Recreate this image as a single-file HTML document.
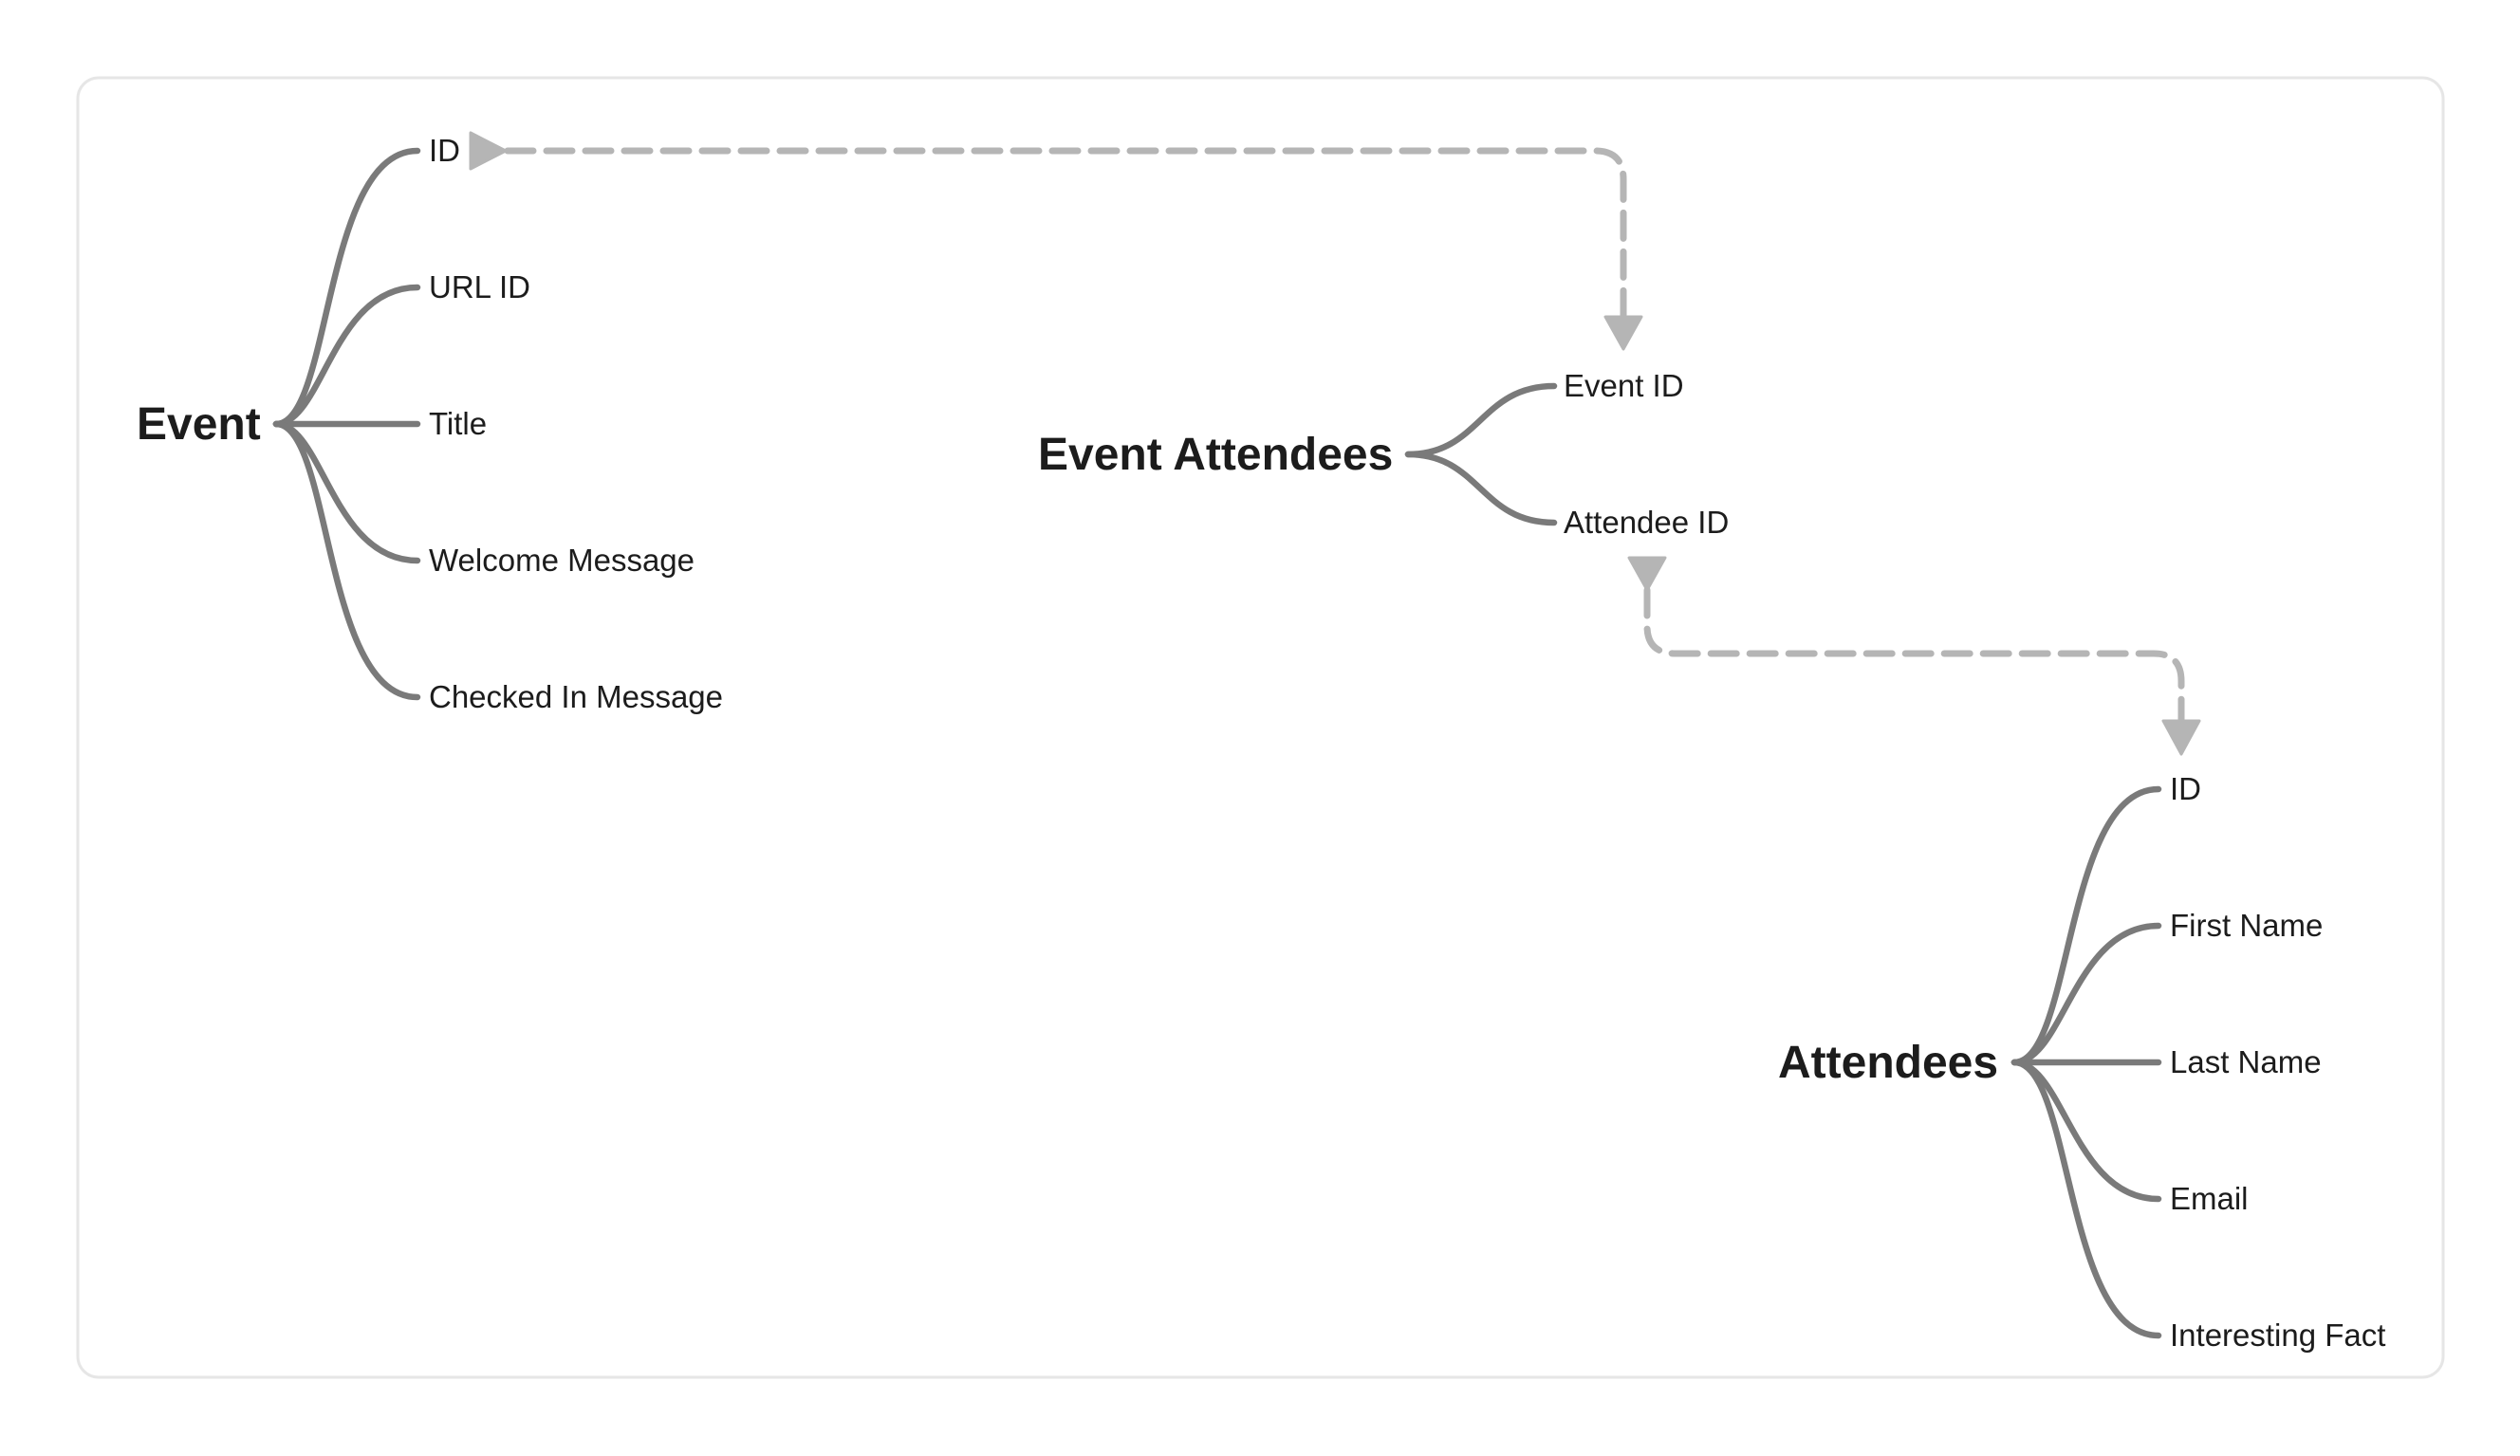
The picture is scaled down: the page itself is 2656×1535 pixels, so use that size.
<!DOCTYPE html>
<html><head><meta charset="utf-8"><style>
html,body{margin:0;padding:0;background:#fff;}
svg{display:block;}
text{font-family:"Liberation Sans",sans-serif;fill:#1c1c1c;}
.b{font-weight:bold;font-size:48px;}
.l{font-size:33px;}
.e{fill:none;stroke:#7a7a7a;stroke-width:6.5;stroke-linecap:round;}
.d{fill:none;stroke:#b5b5b5;stroke-width:7;stroke-dasharray:27 14;stroke-linecap:round;}
.a{fill:#b5b5b5;stroke:#b5b5b5;stroke-width:3;stroke-linejoin:round;}
</style></head><body>
<svg width="2656" height="1535" viewBox="0 0 2656 1535" xmlns="http://www.w3.org/2000/svg">
<rect x="82" y="82" width="2493" height="1370" rx="22" fill="#fff" stroke="#e6e6e6" stroke-width="3"/>

<text class="b" x="144" y="463">Event</text>
<g class="e">
<path d="M291 447 C350 447 340 159 440 159"/>
<path d="M291 447 C340 447 350 303 440 303"/>
<path d="M291 447 L440 447"/>
<path d="M291 447 C340 447 350 591 440 591"/>
<path d="M291 447 C350 447 340 735 440 735"/>
</g>
<text class="l" x="452" y="170">ID</text>
<text class="l" x="452" y="314">URL ID</text>
<text class="l" x="452" y="458">Title</text>
<text class="l" x="452" y="602">Welcome Message</text>
<text class="l" x="452" y="746">Checked In Message</text>

<text class="b" x="1094" y="495">Event Attendees</text>
<g class="e">
<path d="M1484 479 C1560 479 1560 407 1638 407"/>
<path d="M1484 479 C1560 479 1560 551 1638 551"/>
</g>
<text class="l" x="1648" y="418">Event ID</text>
<text class="l" x="1648" y="562">Attendee ID</text>

<text class="b" x="1874" y="1136">Attendees</text>
<g class="e">
<path d="M2123 1120 C2185 1120 2175 832 2275 832"/>
<path d="M2123 1120 C2175 1120 2185 976 2275 976"/>
<path d="M2123 1120 L2275 1120"/>
<path d="M2123 1120 C2175 1120 2185 1264 2275 1264"/>
<path d="M2123 1120 C2185 1120 2175 1408 2275 1408"/>
</g>
<text class="l" x="2287" y="843">ID</text>
<text class="l" x="2287" y="987">First Name</text>
<text class="l" x="2287" y="1131">Last Name</text>
<text class="l" x="2287" y="1275">Email</text>
<text class="l" x="2287" y="1419">Interesting Fact</text>

<path class="d" d="M535 159 L1681 159 Q1711 159 1711 189 L1711 334"/>
<polygon class="a" points="496,140 496,178 533,159"/>
<polygon class="a" points="1692,334 1730,334 1711,368"/>

<path class="d" d="M1736 622 L1736 660 Q1736 689 1766 689 L2270 689 Q2299 689 2299 718 L2299 760"/>
<polygon class="a" points="1717,588 1755,588 1736,622"/>
<polygon class="a" points="2280,760 2318,760 2299,795"/>
</svg>
</body></html>
